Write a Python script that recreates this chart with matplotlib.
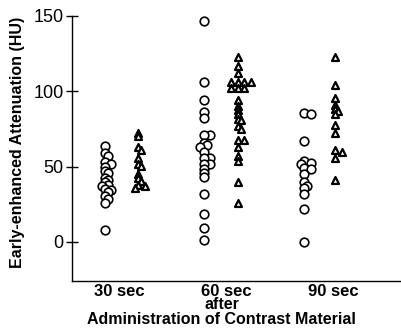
import numpy as np
import matplotlib
matplotlib.use("Agg")
import matplotlib.pyplot as plt

# ── Data (HU values) ──────────────────────────────────────────────────────────
TIMES = ["30 sec", "60 sec", "90 sec"]

circles_30 = [63.5, 59, 57, 53, 52, 50, 47, 45.5, 42.5, 41, 39.5, 38, 37, 35,
              34.5, 33, 30.5, 28.5, 26, 8]
circles_60 = [146.7, 106, 94, 86, 82.5, 70.7, 70.7, 65.5, 64, 63, 59.5, 56, 56,
              52, 52, 48.5, 46, 43, 32, 18.5, 9.5, 1]
circles_90 = [85.5, 84.7, 67, 53.5, 52.5, 51.5, 49, 48.5, 45.3, 39.5, 37.3,
              35.8, 32, 21.8, 0.2]

triangles_30 = [72.5, 70, 63, 61, 56, 52, 50.5, 45, 42.5, 40.5, 38, 37, 36]
triangles_60 = [123, 117, 112, 106, 106, 106, 106, 102, 102, 102, 94.5, 90,
                87.3, 84.7, 81.8, 80.7, 76.7, 75, 67.8, 67.8, 63, 57.3, 53.5,
                39.5, 26]
triangles_90 = [123, 104, 95.5, 90.7, 88, 86.7, 85, 77.3, 72.5, 60.7, 60, 55.5,
                41.3]

Y_TICKS = [0, 50, 100, 150]

# ── Layout ────────────────────────────────────────────────────────────────────
W, H, DPI = 402, 333, 100
CIRCLE_POS = [0.87, 1.79, 2.73]
TRI_POS = [1.18, 2.11, 3.02]
XLIM = (0.561, 3.626)
YLIM = (-26, 150)
PX_PER_X = 107.0   # pixels per x data unit
PX_PER_Y = 1.505   # pixels per HU
MARKER_PX = 8.0

plt.rcParams.update({
    "font.family": ["Liberation Sans", "DejaVu Sans"],
})


def swarm(values, center):
    """Spread overlapping points sideways, roughly like a hand-drawn dot plot."""
    order = np.argsort(values)[::-1]
    placed = []
    xs = np.zeros(len(values))
    step = MARKER_PX * 0.4
    min_d = MARKER_PX * 0.45
    for i in order:
        y = values[i] * PX_PER_Y
        for k in range(40):
            off = ((k + 1) // 2) * step * (1 if k % 2 else -1)
            ok = all(np.hypot(off - px, y - py) >= min_d for px, py in placed)
            if ok:
                break
        placed.append((off, y))
        xs[i] = center + off / PX_PER_X
    return xs


fig = plt.figure(figsize=(W / DPI, H / DPI), dpi=DPI, facecolor="white")
ax = fig.add_axes([72 / W, 1 - 281 / H, (400 - 72) / W, (281 - 16) / H])

circle_groups = [circles_30, circles_60, circles_90]
tri_groups = [triangles_30, triangles_60, triangles_90]

for vals, cx in zip(circle_groups, CIRCLE_POS):
    vals = np.array(vals)
    ax.scatter(swarm(vals, cx), vals, s=6.2 ** 2, marker="o",
               facecolors="white", edgecolors="black", linewidths=1.2,
               zorder=3, clip_on=False)

for vals, cx in zip(tri_groups, TRI_POS):
    vals = np.array(vals)
    ax.scatter(swarm(vals, cx), vals, s=5.0 ** 2, marker="^",
               facecolors="white", edgecolors="black", linewidths=1.6,
               zorder=3, clip_on=False)

ax.set_xlim(*XLIM)
ax.set_ylim(*YLIM)

for side in ("top", "right"):
    ax.spines[side].set_visible(False)
for side in ("left", "bottom"):
    ax.spines[side].set_linewidth(1.0)

ax.set_yticks(Y_TICKS)
ax.tick_params(axis="y", direction="inout", length=8, width=1.0, pad=2,
               labelsize=13)
ax.set_xticks([1, 2, 3])
ax.set_xticklabels(TIMES, fontweight="bold", fontsize=12)
ax.tick_params(axis="x", length=0, pad=2)

ax.set_ylabel("Early-enhanced Attenuation (HU)", fontweight="bold",
              fontsize=11.5)
ax.yaxis.set_label_coords(-0.143, 0.525)

ax.set_xlabel("after\nAdministration of Contrast Material", fontweight="bold",
              fontsize=11.5, linespacing=0.95, va="top")
ax.xaxis.set_label_coords(0.457, -0.062)

fig.savefig("out.png", dpi=DPI)
